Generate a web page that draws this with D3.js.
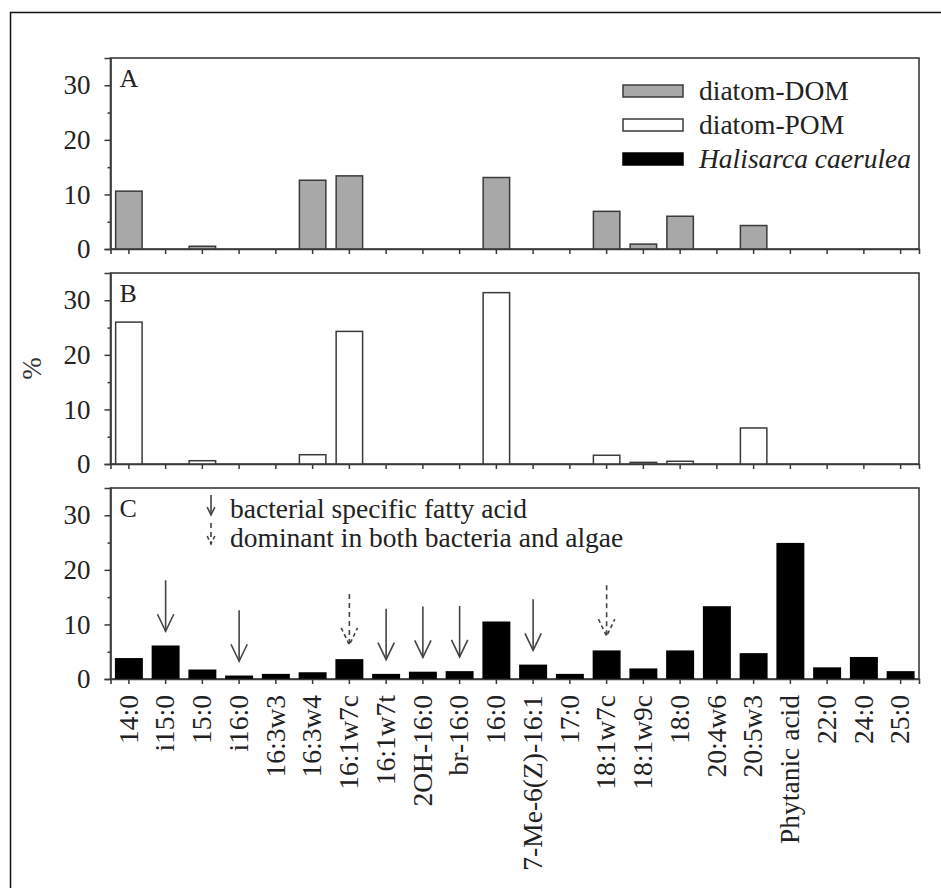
<!DOCTYPE html>
<html>
<head>
<meta charset="utf-8">
<script src="https://cdn.jsdelivr.net/npm/d3@7"></script>
<style>
  html, body { margin: 0; padding: 0; background: #fff; }
  svg { display: block; }
</style>
</head>
<body>
<div id="chart"></div>
<script>
// Fatty acid composition: diatom-DOM, diatom-POM, Halisarca caerulea

const categories = ['14:0', 'i15:0', '15:0', 'i16:0', '16:3w3', '16:3w4', '16:1w7c', '16:1w7t',
  '2OH-16:0', 'br-16:0', '16:0', '7-Me-6(Z)-16:1', '17:0', '18:1w7c', '18:1w9c', '18:0',
  '20:4w6', '20:5w3', 'Phytanic acid', '22:0', '24:0', '25:0']

const domValues = [10.6, 0, 0.5, 0, 0, 12.6, 13.4, 0, 0, 0, 13.1, 0, 0, 6.9, 0.9, 6.0, 0, 4.3, 0, 0, 0, 0]
const pomValues = [26.0, 0, 0.6, 0, 0, 1.7, 24.3, 0, 0, 0, 31.4, 0, 0, 1.6, 0.3, 0.5, 0, 6.6, 0, 0, 0, 0]
const spongeValues = [3.7, 6.0, 1.6, 0.5, 0.8, 1.1, 3.5, 0.8, 1.2, 1.3, 10.4, 2.5, 0.8, 5.1, 1.8, 5.1, 13.2, 4.6, 24.8, 2.0, 3.9, 1.3]

// arrows over panel C
const bacterialFA = ['i15:0', 'i16:0', '16:1w7t', '2OH-16:0', 'br-16:0', '7-Me-6(Z)-16:1']
const sharedFA = ['16:1w7c', '18:1w7c']

const yTicks = [0, 10, 20, 30]
const yMinorTicks = [5, 15, 25]

const series = [
  { key: 'A', name: 'diatom-DOM', values: domValues, fill: '#a8a8a8' },
  { key: 'B', name: 'diatom-POM', values: pomValues, fill: '#ffffff' },
  { key: 'C', name: 'Halisarca caerulea', values: spongeValues, fill: '#000000' }
]

const width = 941
const height = 888
const serif = '"Liberation Serif", "Times New Roman", serif'
const ink = '#3a3a3a'

const svg = d3.select('#chart').append('svg')
  .attr('width', width)
  .attr('height', height)

// outer frame (runs off the right and bottom of the picture)
svg.append('rect')
  .attr('x', 10.5).attr('y', 12.5)
  .attr('width', 960).attr('height', 900)
  .attr('fill', 'none')
  .attr('stroke', '#111')
  .attr('stroke-width', 1.5)

const plotLeft = 110.5
const plotRight = 919
const panelTops = [58, 273, 488]
const panelH = 191

const x = d3.scaleBand()
  .domain(categories)
  .range([plotLeft, plotRight])
  .paddingInner(0.28)
  .paddingOuter(0.14)

const xc = c => x(c) + x.bandwidth() / 2

series.forEach((s, i) => {
  const top = panelTops[i]
  const y = d3.scaleLinear().domain([0, 35]).range([top + panelH, top])
  const g = svg.append('g').classed('panel', true)

  // frame
  g.append('rect')
    .attr('x', plotLeft).attr('y', top)
    .attr('width', plotRight - plotLeft).attr('height', panelH)
    .attr('fill', 'none')
    .attr('stroke', ink)
    .attr('stroke-width', 1.6)

  // bars
  g.selectAll('.bar')
    .data(categories.map((c, j) => ({ c, v: s.values[j] })).filter(d => d.v > 0))
    .enter()
    .append('rect')
    .classed('bar', true)
    .attr('x', d => x(d.c))
    .attr('y', d => y(d.v))
    .attr('width', x.bandwidth())
    .attr('height', d => y(0) - y(d.v))
    .attr('fill', s.fill)
    .attr('stroke', i === 2 ? '#000' : ink)
    .attr('stroke-width', 1.5)

  // y axis
  const yAxis = g.append('g')
    .attr('transform', `translate(${plotLeft},0)`)
    .call(d3.axisLeft(y).tickValues(yTicks).tickSize(6).tickPadding(14))
  yAxis.select('.domain').attr('stroke', ink).attr('stroke-width', 1.6)
  yAxis.selectAll('line').attr('stroke', ink).attr('stroke-width', 1.5)
  yAxis.selectAll('text')
    .style('font-family', serif)
    .style('font-size', '27px')
    .attr('fill', '#222')

  g.append('g')
    .attr('transform', `translate(${plotLeft},0)`)
    .call(d3.axisLeft(y).tickValues(yMinorTicks).tickSize(3).tickFormat(''))
    .call(a => a.select('.domain').remove())
    .selectAll('line').attr('stroke', ink).attr('stroke-width', 1.5)

  // x axis ticks
  const xAxis = g.append('g')
    .attr('transform', `translate(0,${y(0)})`)
    .call(d3.axisBottom(x).tickSize(5).tickFormat(i === 2 ? null : ''))
  xAxis.select('.domain').attr('stroke', ink).attr('stroke-width', 1.6)
  xAxis.selectAll('line').attr('stroke', ink).attr('stroke-width', 1.5)

  if (i === 2) {
    xAxis.selectAll('text')
      .attr('transform', 'rotate(-90)')
      .attr('text-anchor', 'end')
      .attr('x', -16)
      .attr('y', 0)
      .attr('dy', '0.32em')
      .style('font-family', serif)
      .style('font-size', '27.5px')
      .attr('fill', '#222')
  }

  // panel letter
  g.append('text')
    .attr('x', plotLeft + 9)
    .attr('y', top + 29)
    .style('font-family', serif)
    .style('font-size', '26px')
    .attr('fill', '#222')
    .text(s.key)

  // arrows over panel C
  if (i === 2) {
    const drawArrow = (cx, tipY, len, head, dashed) => {
      const a = g.append('g')
        .attr('stroke', '#444')
        .attr('stroke-width', 1.6)
        .attr('fill', 'none')
        .attr('stroke-dasharray', dashed ? '5,4' : null)
      a.append('line')
        .attr('x1', cx).attr('x2', cx)
        .attr('y1', tipY - len).attr('y2', tipY)
      a.append('path')
        .attr('stroke-dasharray', dashed ? '4,3' : null)
        .attr('d', `M${cx - head * 0.48},${tipY - head} L${cx},${tipY} L${cx + head * 0.48},${tipY - head}`)
    }

    categories.forEach((c, j) => {
      const bact = bacterialFA.includes(c)
      const shared = sharedFA.includes(c)
      if (!bact && !shared) return
      drawArrow(xc(c), y(s.values[j]) - 15, 51, 17, shared)
    })

    // arrow key
    drawArrow(211, 515, 20, 8, false)
    drawArrow(211, 544, 21, 8, true)
    g.append('text')
      .attr('x', 230).attr('y', 518)
      .style('font-family', serif)
      .style('font-size', '27.5px')
      .attr('fill', '#222')
      .text('bacterial specific fatty acid')
    g.append('text')
      .attr('x', 230).attr('y', 547)
      .style('font-family', serif)
      .style('font-size', '27.5px')
      .attr('fill', '#222')
      .text('dominant in both bacteria and algae')
  }
})

// legend in panel A
const legend = svg.append('g').classed('legend', true)
series.forEach((s, i) => {
  const ly = 85 + i * 34
  legend.append('rect')
    .attr('x', 623).attr('y', ly)
    .attr('width', 60).attr('height', 12)
    .attr('fill', s.fill)
    .attr('stroke', i === 2 ? '#000' : ink)
    .attr('stroke-width', 1.5)
  legend.append('text')
    .attr('x', 699).attr('y', ly + 15)
    .style('font-family', serif)
    .style('font-size', '27.5px')
    .style('font-style', i === 2 ? 'italic' : 'normal')
    .attr('fill', '#222')
    .text(s.name)
})

// shared y label
svg.append('text')
  .attr('transform', `translate(41,${panelTops[1] + panelH / 2}) rotate(-90)`)
  .attr('text-anchor', 'middle')
  .style('font-family', serif)
  .style('font-size', '27px')
  .attr('fill', '#333')
  .text('%')
</script>
</body>
</html>
